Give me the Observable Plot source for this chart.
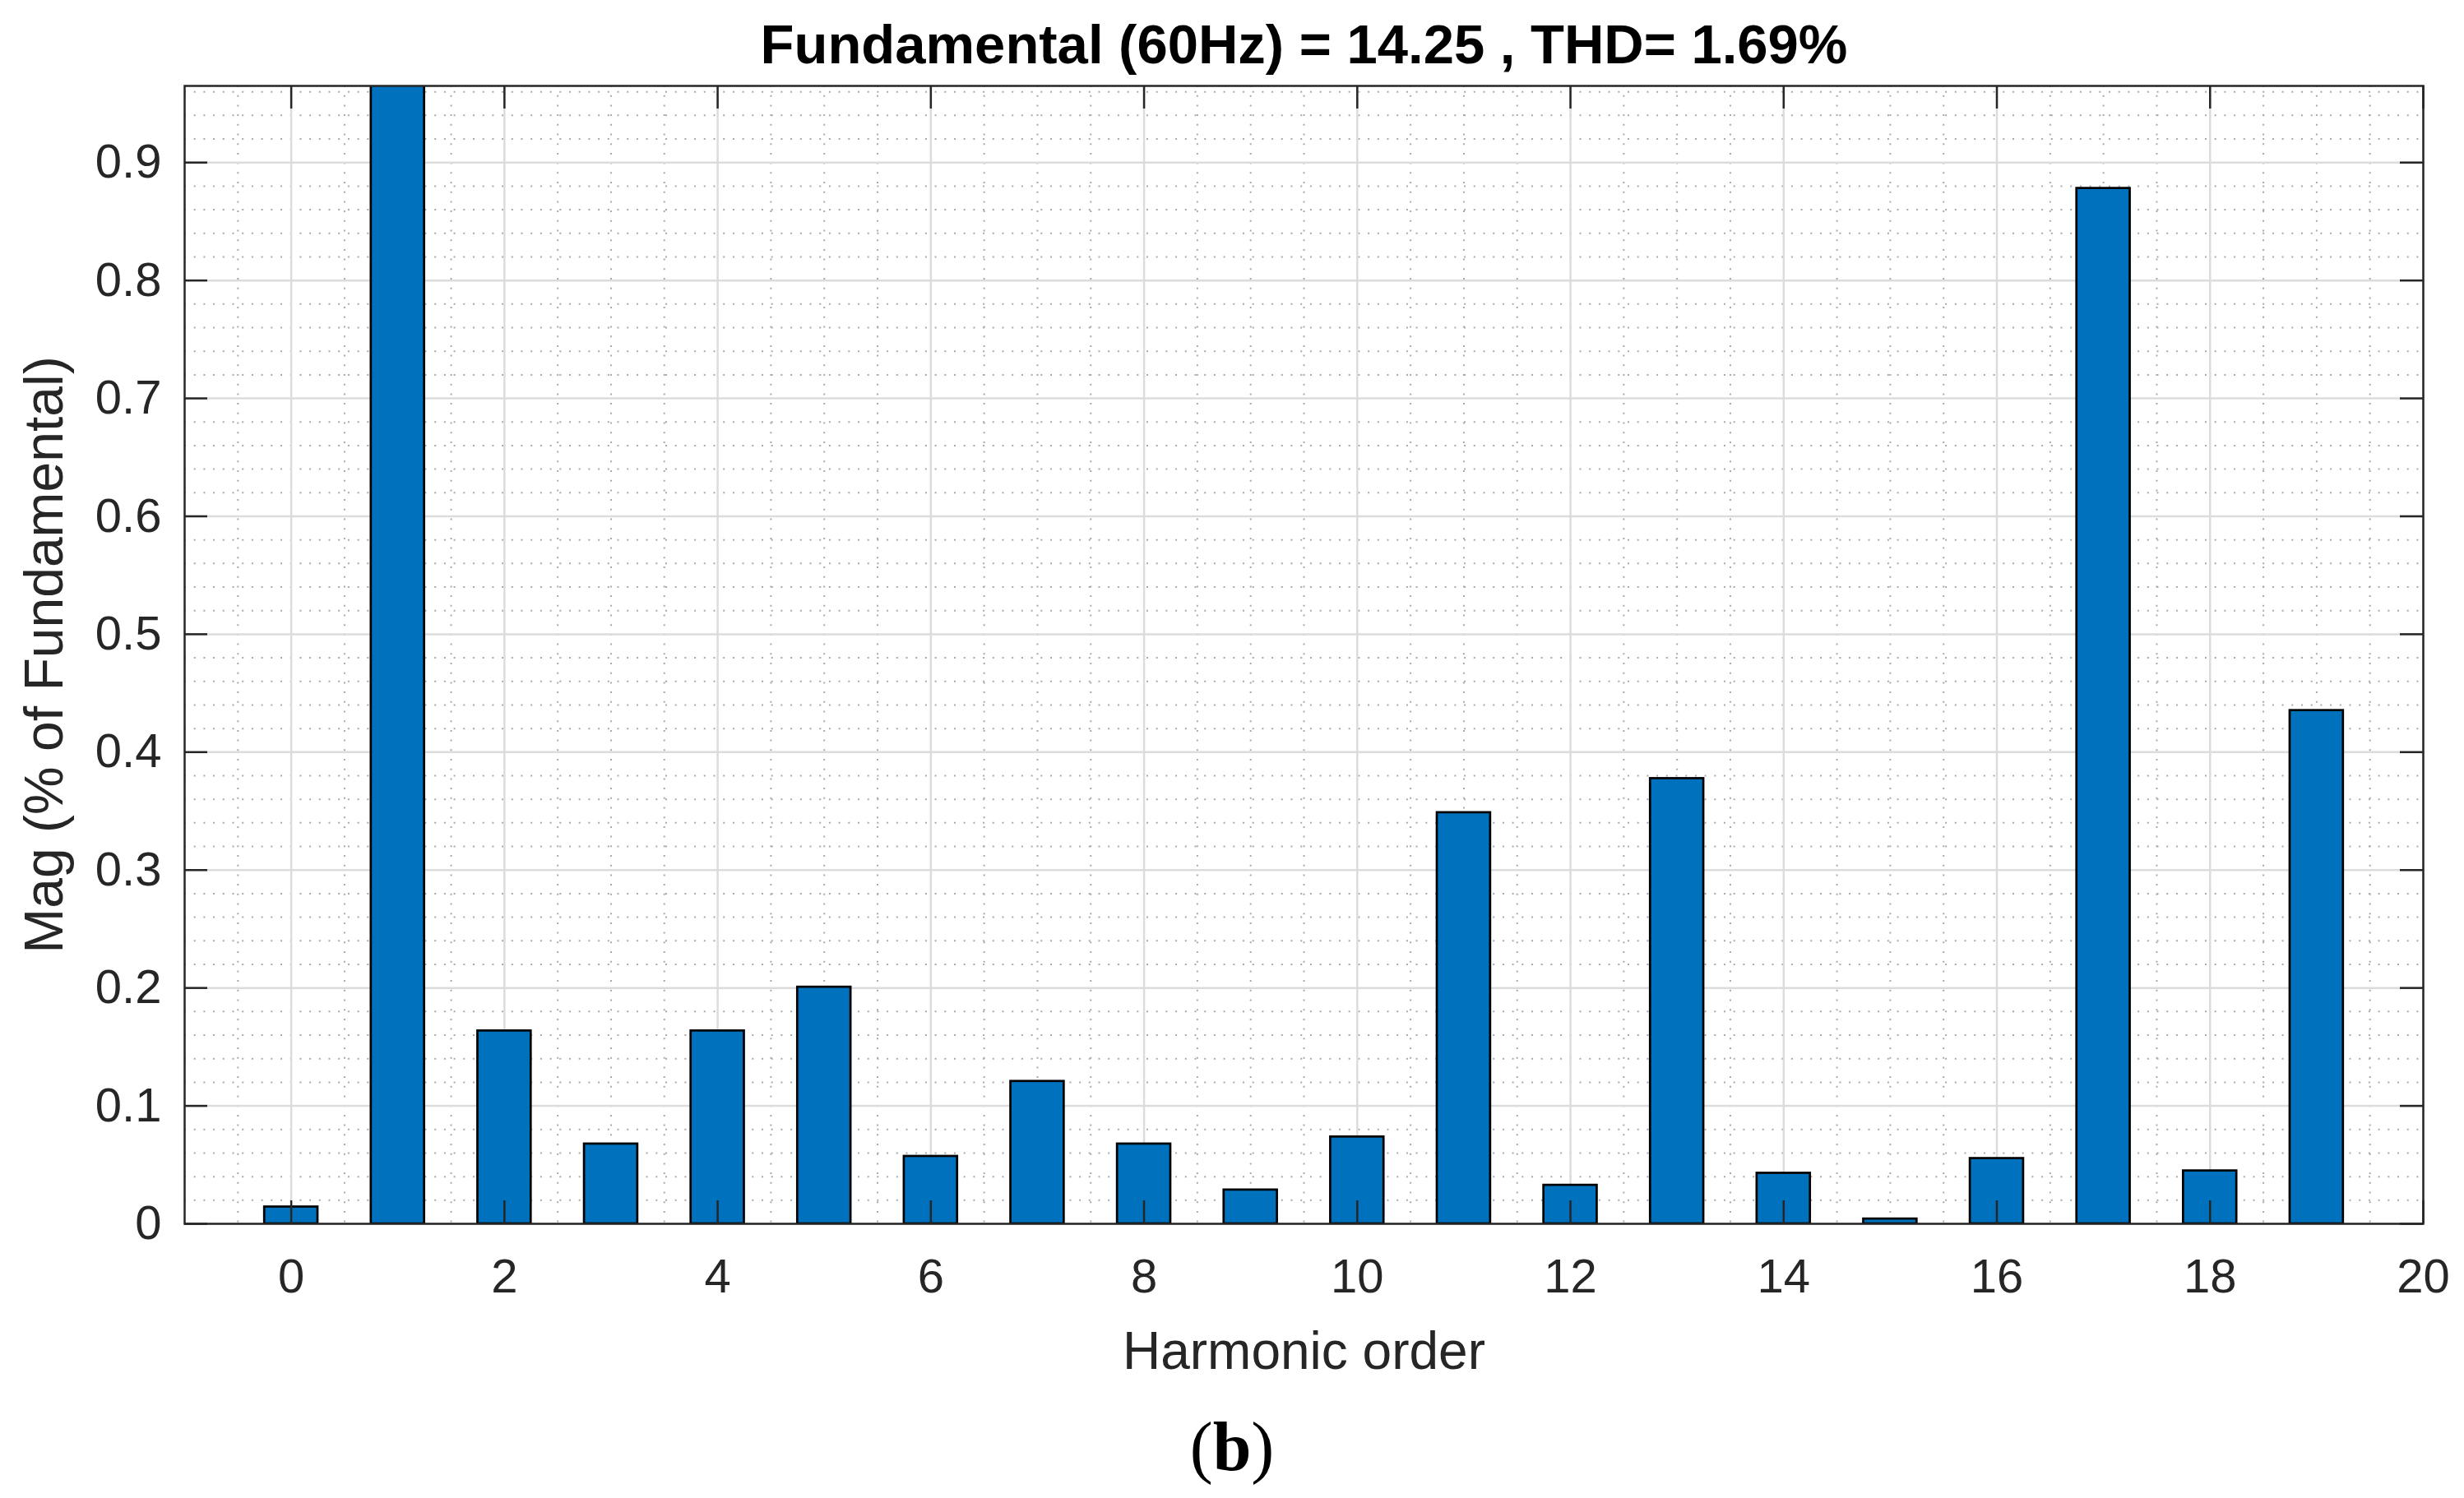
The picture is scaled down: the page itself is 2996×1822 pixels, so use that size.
<!DOCTYPE html>
<html>
<head>
<meta charset="utf-8">
<script src="https://cdn.jsdelivr.net/npm/d3@7"></script>
<script src="https://cdn.jsdelivr.net/npm/@observablehq/plot@0.6"></script>
<style>
  html, body { margin: 0; padding: 0; background: #fff; }
  #wrap { position: relative; width: 2996px; height: 1822px; overflow: hidden; background: #fff; }
  #wrap svg { display: block; }
  #caption { position: absolute; left: 0; width: 2996px; top: 1718px; text-align: center;
             font-family: "Liberation Serif", "Times New Roman", serif; font-size: 84px; line-height: 84px; color: #000; }
</style>
</head>
<body>
<div id="wrap"><div id="caption">(<b>b</b>)</div></div>
<script>
// ---- data ----
const harmonicOrder = [0, 1, 2, 3, 4, 5, 6, 7, 8, 9, 10, 11, 12, 13, 14, 15, 16, 17, 18, 19];
const magnitude = [0.0143, 100, 0.1636, 0.0677, 0.1636, 0.2007, 0.0572, 0.1208, 0.0677, 0.0287,
                   0.0737, 0.3487, 0.0327, 0.3776, 0.0429, 0.0041, 0.0554, 0.8781, 0.0449, 0.4353];
const xTickValues = [0, 2, 4, 6, 8, 10, 12, 14, 16, 18, 20];
const xTickLabels = ["0", "2", "4", "6", "8", "10", "12", "14", "16", "18", "20"];
const yTickValues = [0, 0.1, 0.2, 0.3, 0.4, 0.5, 0.6, 0.7, 0.8, 0.9];
const yTickLabels = ["0", "0.1", "0.2", "0.3", "0.4", "0.5", "0.6", "0.7", "0.8", "0.9"];
const xDomain = [-1, 20];
const yDomain = [0, 0.965];
const titleText = "Fundamental (60Hz) = 14.25 , THD= 1.69%";
const xLabelText = "Harmonic order";
const yLabelText = "Mag (% of Fundamental)";

// ---- layout ----
const W = 2996, H = 1822;
const mL = 224, mR = 50, mT = 104, mB = 334;
const plotW = W - mL - mR, plotH = H - mT - mB;
const tickLen = 28;
const ink = "#262626";

const bars = harmonicOrder.map((h, i) => ({h, m: magnitude[i]}));
const xMinor = d3.range(-1, 40).map(i => i * 0.5).filter(v => v > -1 && v < 20 && v % 2 !== 0);
const yMinor = d3.range(1, 49).filter(i => i % 5 !== 0).map(i => i * 0.02);

const chart = Plot.plot({
  width: W, height: H,
  marginLeft: mL, marginRight: mR, marginTop: mT, marginBottom: mB,
  x: {type: "linear", domain: xDomain, axis: null},
  y: {type: "linear", domain: yDomain, axis: null},
  style: {fontFamily: "'Liberation Sans', Arial, Helvetica, sans-serif", color: ink, background: "#fff", overflow: "visible"},
  marks: [
    Plot.ruleX(xMinor, {x: d => d, stroke: "#a9a9a9", strokeWidth: 2, strokeDasharray: "2,9.7"}),
    Plot.ruleY(yMinor, {y: d => d, stroke: "#a9a9a9", strokeWidth: 2, strokeDasharray: "2,9.7"}),
    Plot.ruleX(xTickValues, {x: d => d, stroke: "#dcdcdc", strokeWidth: 2.5}),
    Plot.ruleY(yTickValues, {y: d => d, stroke: "#dcdcdc", strokeWidth: 2.5}),
    Plot.rectY(bars, {x1: d => d.h - 0.25, x2: d => d.h + 0.25, y: "m",
                      fill: "#0072BD", stroke: "#000", strokeWidth: 2.7, clip: true}),
    Plot.tickY(yTickValues, {y: d => d, insetRight: plotW - tickLen, stroke: ink, strokeWidth: 2.5}),
    Plot.tickY(yTickValues, {y: d => d, insetLeft: plotW - tickLen, stroke: ink, strokeWidth: 2.5}),
    Plot.tickX(xTickValues, {x: d => d, insetTop: plotH - tickLen, stroke: ink, strokeWidth: 2.5}),
    Plot.tickX(xTickValues, {x: d => d, insetBottom: plotH - tickLen, stroke: ink, strokeWidth: 2.5}),
    Plot.frame({stroke: ink, strokeWidth: 2.5}),
    Plot.axisX(xTickValues, {tickSize: 0, tickPadding: 42, fontSize: 58, label: null, fill: ink,
                             tickFormat: d => xTickLabels[xTickValues.indexOf(d)]}),
    Plot.axisY(yTickValues, {tickSize: 0, tickPadding: 28, fontSize: 58, label: null, fill: ink,
                             tickFormat: d => yTickLabels[yTickValues.indexOf(d)]}),
    Plot.text([titleText], {text: d => d, frameAnchor: "top", dy: -28, lineAnchor: "bottom",
                            textAnchor: "middle", fontSize: 67, fontWeight: "bold", fill: "#000"}),
    Plot.text([xLabelText], {text: d => d, frameAnchor: "bottom", dy: 176, lineAnchor: "bottom",
                             textAnchor: "middle", fontSize: 64, fill: ink}),
    Plot.text([yLabelText], {text: d => d, frameAnchor: "left", dx: -149, rotate: -90, lineAnchor: "bottom",
                             textAnchor: "middle", fontSize: 66, fill: ink})
  ]
});
document.getElementById("wrap").prepend(chart);
</script>
</body>
</html>
